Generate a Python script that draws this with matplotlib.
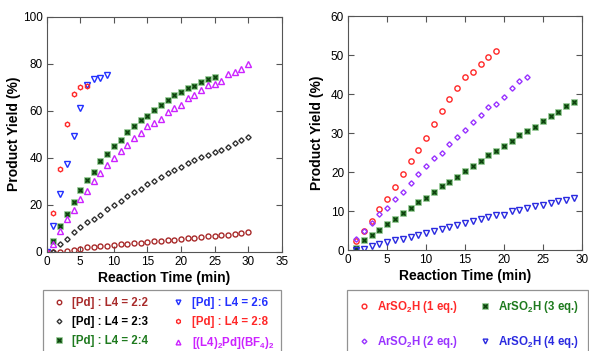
import matplotlib
matplotlib.use("Agg")
import matplotlib.pyplot as plt
from matplotlib.legend_handler import HandlerTuple


# ============================================================
# Data
# ============================================================

# left panel: [Pd] : L4 ratio study
t_30 = list(range(0, 31))
t_25 = list(range(0, 26))
t_9 = list(range(0, 10))
t_6 = list(range(0, 7))

yield_2_2 = [0, 0, 0, 0.3, 0.6, 1.2, 1.8, 2, 2.2, 2.5, 3, 3.3, 3.3, 3.5, 3.8, 4.3,
             4.4, 4.6, 5, 5.1, 5.5, 5.8, 5.9, 6.2, 6.8, 6.8, 7, 7.3, 7.6, 7.9, 8.2]
yield_2_3 = [0, 0, 3.1, 5.2, 8.5, 10.5, 12.5, 13.9, 15.7, 18.2, 19.7, 21.6, 23.5,
             25.4, 26.8, 28.7, 30.1, 31.8, 33.6, 34.9, 35.9, 37.7, 38.9, 40.4, 41.3,
             42.6, 43.3, 44.5, 46.2, 47.5, 48.7]
yield_2_4 = [0, 4.5, 11, 16, 21.3, 26.1, 30.4, 34, 38.4, 41.4, 45.1, 47.4, 51, 53.6,
             56.2, 57.7, 60.3, 62.3, 64.5, 66.5, 68.1, 69.6, 70.5, 72.2, 73.6, 74.5]
yield_2_6 = [0, 11, 24.4, 37.2, 49.4, 61, 71, 73.6, 74, 75.2]
yield_2_8 = [0, 16.5, 35, 54.5, 67, 70, 70.5]
yield_bf4 = [0, 3.1, 9, 14, 17.6, 22.6, 26, 30, 33.5, 36.7, 39.9, 42.7, 45.4, 48.4,
             50.5, 53.5, 54.6, 56.6, 59.3, 61, 62.4, 65.5, 66.5, 68.7, 70.8, 71.5,
             72.6, 75.6, 76.6, 77.9, 79.7]

# right panel: ArSO2H equivalents study
t_19 = list(range(1, 20))
t_23 = list(range(1, 24))
t_29 = list(range(1, 30))

yield_1eq = [2.3, 5, 7.5, 10.4, 13.2, 16.2, 19.6, 22.8, 25.6, 28.8, 32.3, 35.6,
             38.7, 41.5, 44.3, 45.6, 47.7, 49.6, 50.9]
yield_2eq = [2.9, 5, 7, 9.3, 10.8, 13.2, 15, 17.3, 19.5, 21.5, 23.6, 25, 27.1, 29,
             30.9, 32.7, 34.7, 36.6, 37.4, 39.2, 41.5, 43.4, 44.4]
yield_3eq = [0.4, 2.5, 3.8, 5.2, 6.6, 8, 9.5, 10.7, 12.2, 13.3, 14.9, 16.4, 17.4,
             18.7, 20.2, 21.5, 22.7, 24.3, 25.4, 26.7, 27.9, 29.5, 30.5, 31.6, 33.2,
             34.3, 35.5, 36.9, 38]
yield_4eq = [0, 0.2, 1, 1.5, 2, 2.5, 2.9, 3.3, 3.8, 4.4, 5, 5.4, 5.9, 6.5, 6.9, 7.5,
             7.9, 8.5, 8.9, 9.1, 9.9, 10.3, 10.8, 11.2, 11.6, 12.1, 12.5, 12.7, 13.3]

left_labels = ["[Pd] : L4 = 2:2", "[Pd] : L4 = 2:3", "[Pd] : L4 = 2:4",
               "[Pd] : L4 = 2:6", "[Pd] : L4 = 2:8",
               r"[(L4)$_\mathbf{2}$Pd](BF$_\mathbf{4}$)$_\mathbf{2}$"]
right_labels = [r"ArSO$_\mathbf{2}$H (1 eq.)", r"ArSO$_\mathbf{2}$H (2 eq.)",
                r"ArSO$_\mathbf{2}$H (3 eq.)", r"ArSO$_\mathbf{2}$H (4 eq.)"]


# ============================================================
# Style
# ============================================================

plt.rcParams["font.family"] = ["Liberation Sans", "DejaVu Sans"]
plt.rcParams["mathtext.fontset"] = "custom"
plt.rcParams["mathtext.rm"] = "Liberation Sans"
plt.rcParams["mathtext.bf"] = "Liberation Sans:bold"

DARK_RED = "#a82a2a"
GREEN_FACE = "#3c8c3c"
GREEN_X = "#0c3c0c"
GREEN_TEXT = "#1e7a1e"
BLUE = "#2230ff"
RED = "#ff2828"
MAGENTA = "#cc22ff"
PURPLE = "#9933ff"
BLUE2 = "#2a2ae0"
SPINE = "#555555"


def open_marker(ax, x, y, marker, color, size=3.3, mew=1.0):
    return ax.plot(x, y, linestyle="none", marker=marker, markersize=size,
                   markerfacecolor="none", markeredgecolor=color,
                   markeredgewidth=mew)[0]


def green_marker(ax, x, y):
    sq = ax.plot(x, y, linestyle="none", marker="s", markersize=4.4,
                 markerfacecolor=GREEN_FACE, markeredgecolor="#9fcf9f",
                 markeredgewidth=0.5)[0]
    cr = ax.plot(x, y, linestyle="none", marker="x", markersize=2.6,
                 markeredgecolor=GREEN_X, markeredgewidth=0.9)[0]
    return (sq, cr)


def style_axes(ax, ylabel_pad):
    ax.tick_params(direction="in", top=True, right=True, length=4,
                   width=0.8, color=SPINE, labelsize=8.5, pad=3)
    for s in ax.spines.values():
        s.set_color(SPINE)
        s.set_linewidth(0.8)
    ax.set_xlabel("Reaction Time (min)", fontsize=10, fontweight="bold",
                  labelpad=2)
    ax.set_ylabel("Product Yield (%)", fontsize=10, fontweight="bold",
                  labelpad=ylabel_pad)


fig = plt.figure(figsize=(5.89, 3.51), dpi=100)

# ============================================================
# Left panel
# ============================================================

ax1 = fig.add_axes([0.0793, 0.283, 0.399, 0.6695])
h1 = open_marker(ax1, t_30, yield_2_2, "o", DARK_RED, size=3.6)
h2 = open_marker(ax1, t_30, yield_2_3, "D", "#333333", size=2.7)
h3 = green_marker(ax1, t_25, yield_2_4)
h4 = open_marker(ax1, t_9, yield_2_6, "v", BLUE, size=3.8)
h5 = open_marker(ax1, t_6, yield_2_8, "h", RED, size=3.4)
h6 = open_marker(ax1, t_30, yield_bf4, "^", MAGENTA, size=3.8)
ax1.set_xlim(0, 35)
ax1.set_ylim(0, 100)
ax1.set_xticks(range(0, 36, 5))
ax1.set_yticks(range(0, 101, 20))
style_axes(ax1, 1)

leg1 = fig.legend([h1, h2, h3, h4, h5, h6], left_labels, ncol=2,
                  loc="upper left", bbox_to_anchor=(0.073, 0.174),
                  bbox_transform=fig.transFigure,
                  handler_map={tuple: HandlerTuple(ndivide=1, pad=0)},
                  prop={"weight": "bold", "size": 8.3},
                  labelcolor=[DARK_RED, "black", GREEN_TEXT, BLUE, RED, MAGENTA],
                  frameon=True, fancybox=False, edgecolor="#777777",
                  handlelength=1.5, handletextpad=0.4, columnspacing=1.9,
                  labelspacing=0.6, borderpad=0.6, borderaxespad=0,
                  markerscale=0.9)
leg1.get_frame().set_linewidth(0.9)

# ============================================================
# Right panel
# ============================================================

ax2 = fig.add_axes([0.5913, 0.2877, 0.3963, 0.6667])
g1 = open_marker(ax2, t_19, yield_1eq, "o", RED, size=3.8)
g2 = open_marker(ax2, t_23, yield_2eq, "D", PURPLE, size=2.7)
g3 = green_marker(ax2, t_29, yield_3eq)
g4 = open_marker(ax2, t_29, yield_4eq, "v", BLUE2, size=3.8)
ax2.set_xlim(0, 30)
ax2.set_ylim(0, 60)
ax2.set_xticks(range(0, 31, 5))
ax2.set_yticks(range(0, 61, 10))
style_axes(ax2, 5)

leg2 = fig.legend([g1, g2, g3, g4], right_labels, ncol=2,
                  loc="upper left", bbox_to_anchor=(0.589, 0.174),
                  bbox_transform=fig.transFigure,
                  handler_map={tuple: HandlerTuple(ndivide=1, pad=0)},
                  prop={"weight": "bold", "size": 8.3},
                  labelcolor=[RED, PURPLE, GREEN_TEXT, BLUE2],
                  frameon=True, fancybox=False, edgecolor="#777777",
                  handlelength=1.5, handletextpad=0.4, columnspacing=1.5,
                  labelspacing=1.7, borderpad=0.75, borderaxespad=0,
                  markerscale=0.9)
leg2.get_frame().set_linewidth(0.9)

fig.savefig("out.png", dpi=100)
